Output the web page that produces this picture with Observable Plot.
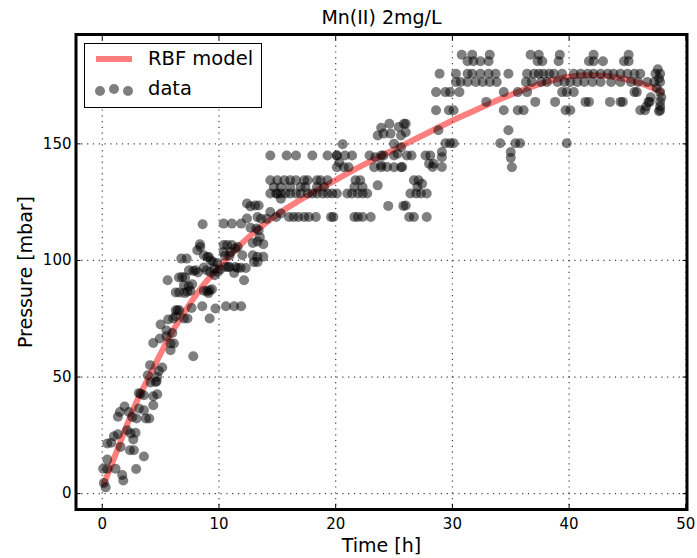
<!DOCTYPE html>
<html>
<head>
<meta charset="utf-8">
<script src="https://cdn.jsdelivr.net/npm/d3@7"></script>
<script src="https://cdn.jsdelivr.net/npm/@observablehq/plot@0.6"></script>
<style>
  html, body { margin: 0; padding: 0; background: #fff; }
  #fig { position: relative; width: 697px; height: 558px; font-family: "DejaVu Sans", sans-serif; }
  #legend { position: absolute; left: 84px; top: 43px; width: 178px; height: 65px; box-sizing: border-box;
            border: 1.5px solid #000; background: #fff; font-family: "DejaVu Sans", sans-serif; font-size: 19.5px; }
  #legend .line { position: absolute; left: 11px; top: 12px; width: 36px; height: 6px; background: rgba(255,0,0,0.5); }
  #legend .dot { position: absolute; width: 10px; height: 10px; border-radius: 50%; background: rgba(0,0,0,0.5); }
  #legend .lab { position: absolute; line-height: 22px; white-space: nowrap; }
</style>
</head>
<body>
<div id="fig"></div>
<script>
// ---- chart texts ----
const title = "Mn(II) 2mg/L";
const xLabel = "Time [h]";
const yLabel = "Pressure [mbar]";
const seriesNames = ["RBF model", "data"];
const xTicks = [0, 10, 20, 30, 40, 50];
const yTicks = [0, 50, 100, 150];

// ---- RBF model curve ----
const modelT = [0.15, 1, 2, 3, 4, 5, 6, 7, 8, 9, 10, 12, 14, 16, 18, 20, 22, 24, 26, 28, 30, 32, 34, 36, 38, 40, 42, 44, 46, 47.9];
const modelP = [4.4, 15, 28, 40, 50, 60, 69.5, 77.5, 85, 91.5, 97, 107.5, 116, 123, 129, 134.5, 140, 145, 150, 155, 160, 164.5, 169, 173, 176.5, 178.8, 179.4, 178.6, 176.2, 172.3];

// ---- measured data: [time h, pressure mbar] ----
const dataEarly = [
  [0.29,2.7],[0.14,4.6],[0.08,10.7],[0.43,10.7],[1.14,10.7],[1.71,8.0],[1.8,5.6],[2.9,10.6],[3.57,15.9],[0.43,14.6],
  [1.57,20],[0.43,21.5],[0.77,21.8],[1.0,24.6],[1.34,25.5],[2.14,27.2],[2.43,25.8],[2.66,23.2],[2.85,26.1],[2.37,18.6],
  [2.71,18.6],[1.34,33.0],[1.51,35],[1.91,37.4],[2.28,35],[2.57,32.9],[2.94,32.2],[3.28,42.8],[3.14,43.1],[3.57,42.2],
  [3.14,36.5],[3.57,35.8],[3.74,32.2],[4.03,32.2],[4.37,37.9],[4.71,42.6],[4.37,41.8],[4.14,47.7],[4.66,48.2],
  [3.9,50.8],[4.1,55.1],[4.7,50.1],[4.85,52.6],[4.57,47.9],[5.14,54.1],
  [4.37,64.6],[4.94,66.5],[5.5,67.5],[5.85,64.4],[6.14,64.4],
  [5.0,72.5],[5.5,70],[5.65,74.7],[6.08,75.1],[6.28,76.1],[6.0,68.9],[5.85,61.5],
  [6.3,78.6],[6.45,78.6],[6.6,78.6],[7.0,75.1],[7.3,75.1],[7.8,58.9],
  [6.3,86.3],[6.6,86.3],[7.05,86.0],[7.3,86.6],[7.55,87],[7.0,89.3],[7.4,88.9],[7.7,89.8],
  [9.0,86.8],[9.2,87.2],[9.4,87.6],[9.7,79.4],[9.2,75.1],[8.57,80.4],[7.65,79.6],[5.6,91.5],
  [6.57,92.7],[6.85,92.9],[7.1,92.7],[7.43,95.8],[7.8,95.5],[8.0,95.8],[8.2,94.8],[8.7,97],[8.94,95.8],[9.25,95],
  [9.62,93.7],[10.1,96.1],[10.57,97.2],[10.9,97.2],[11.3,94.6],[11.6,96.8],[11.86,96.9],[12.3,96.8],[12.15,91.5],
  [6.77,100.8],[7.23,100.8],[8.14,104.4],[8.37,106.9],[8.7,102.2],[9.14,101.5],[9.5,99.3],[9.85,98.9],
  [10.4,106.6],[10.7,106.6],[11.1,106.6],[11.4,105.1],[12.0,102.2],[12.9,107.5],[13.3,108.1],[12.9,102.2],[13.3,99.3],
  [10.6,80.4],[11.3,80.4],[11.9,80.4],[10.5,102],[10.9,102],
  [9.6,96.5],[9.9,95.1],[8.7,87],[9.1,86],[8.4,105.8],[9.0,101.5],[9.3,100],[10.4,103.6],[11.0,103.6],[11.6,105.8],
  [10.8,97.2],[11.4,97.2],[10.4,115.8],[11.1,115.8],[11.9,115.8],[8.6,115.5],
  [12.4,124.4],[12.7,123.2],[13.1,123.6],[13.4,123.6],
  [12.4,118],[12.7,114],[13.2,113.7],[13.4,113],[13.5,110],[13.8,107],[13.3,118.6],[13.6,117.9],
  [13.3,101.6],[13.8,101.6],[13.0,99.3]
];
const dataMiddle = [
  [14.1,117.9],[14.4,120.8],[14.9,118.6],[15.3,120.1],[15.0,128.6],[15.3,126.5],
  [14.4,145],[15.8,145],[16.6,145],[18.0,145],[19.3,145],[20.1,145],[20.8,145],[21.4,145],[22.9,145],[23.9,145],
  [25.0,145],[26.1,145],[26.5,145],[27.7,145],[28.1,145],[29.1,146.5],[29.1,144.3],
  [14.4,134.4],[15.0,134.4],[15.6,134.4],[16.1,134.4],[16.6,134.4],[17.3,134.4],[17.6,134.4],[18.4,134.4],[18.7,134.4],
  [19.3,134.4],[21.7,134.4],[22.1,134.4],[26.7,134.4],[27.1,134.4],
  [14.7,131.5],[15.3,131.5],[16.1,131.5],[17.0,131.5],[17.4,131.5],[18.4,131.5],[19.0,131.5],[21.6,131.5],[22.3,131.5],
  [27.0,131.5],[27.4,132.9],
  [14.4,128.7],[14.9,128.7],[15.3,128.7],[15.7,128.7],[16.1,128.7],[16.6,128.7],[17.0,128.7],[17.6,128.7],[18.0,128.7],
  [18.4,128.7],[18.9,128.7],[19.3,128.7],[19.7,128.7],[20.1,128.7],[21.0,128.7],[21.4,128.7],[21.9,128.7],[22.3,128.7],
  [22.7,128.7],[26.4,128.7],[26.9,128.7],[27.3,128.7],[27.8,128.7],
  [16.0,118.6],[16.4,118.6],[16.8,118.6],[17.3,118.6],[17.7,118.6],[18.3,118.6],[19.6,118.6],[19.8,118.6],[21.6,118.6],
  [21.9,118.6],[22.3,118.6],[23.0,118.6],[26.3,118.6],[26.7,118.6],[27.8,118.6],
  [24.5,123.4],[25.8,123.4],[23.6,132.2],[26.0,123.6],
  [20.1,140],[20.7,140],[21.1,140],[23.3,140],[23.9,140],[25.0,140],[25.6,140],
  [23.9,156.9],[24.6,158.6],[25.4,157.2],[26.0,158.6],[23.6,153.6],[24.1,154.4],[24.7,154.4],[25.6,153.6],
  [20.6,149.8],[20.1,145],[20.3,142],
  [25.0,150],[25.6,148.6],[25.3,145.8],[24.1,145],[23.4,144.3],[23.9,140.8],[24.4,140.1],
  [28.0,141.5],[25.85,158.6],[26.0,155],[28.4,141.5],[28.3,140.1],[29.1,140.1],[25.7,140.1]
];
const dataLate = [
  [30.8,188.2],[31.7,188.2],[33.2,188.2],[36.7,188.2],[37.4,188.2],[39.2,188.2],[42.1,188.2],[45.1,188.2],
  [31.3,185.4],[31.8,185.4],[32.4,185.4],[33.1,185.4],[37.3,185.4],[37.7,185.4],[39.1,185.4],[41.7,185.4],[42.1,185.4],
  [42.9,185.4],[44.7,185.4],[45.1,185.4],
  [28.9,180.1],[30.3,180.1],[31.3,180.1],[31.7,180.1],[32.4,180.1],[33.1,180.1],[33.7,180.1],[34.8,180.1],[36.4,180.1],
  [37.0,180.1],[37.4,180.1],[37.8,180.1],[38.3,180.1],[38.7,180.1],[39.4,180.1],[40.4,180.1],[41.0,180.1],[41.6,180.1],
  [42.1,180.1],[42.7,180.1],[43.3,180.1],[43.8,180.1],[44.4,180.1],[45.0,180.1],[45.6,180.1],[46.1,180.1],[47.4,180.1],[47.8,180.1],
  [30.3,176.5],[30.7,176.5],[31.3,176.5],[32.0,176.5],[32.6,176.5],[33.2,176.5],[33.8,176.5],[36.3,176.5],[36.8,176.5],
  [37.6,176.5],[38.1,176.5],[39.0,176.5],[39.6,176.5],[40.1,176.5],[40.7,176.5],[41.3,176.5],[42.0,176.5],[42.7,176.5],
  [43.6,176.5],[44.4,176.5],[45.3,176.5],[45.9,176.5],[46.7,176.5],[47.3,176.5],[47.8,176.5],
  [28.6,172.2],[29.4,172.2],[29.8,172.2],[30.6,172.2],[34.4,172.2],[35.6,172.2],[36.4,172.2],[39.4,172.2],[39.8,172.2],
  [40.4,172.2],[45.6,172.2],[45.8,172.2],[47.8,172.2],
  [32.9,168],[37.1,168],[38.8,168],[41.4,168],[41.7,168],[43.5,168],[44.4,168],[44.6,168],[46.8,168],[47.8,168],
  [28.6,164.4],[29.7,164.4],[30.1,164.4],[34.4,164.4],[35.6,164.4],[36.1,164.4],[39.7,164.4],[40.1,164.4],[46.1,164.4],
  [46.5,164.4],[47.8,164.4],
  [47.6,182],[47.7,178],[47.5,174],[47.9,170],[47.8,166],[47.7,164],[47.0,170],[46.9,168],[46.6,166],
  [34.8,155.8],[28.8,155.8],
  [29.4,150.3],[29.8,150.3],[30.1,150.3],[34.1,150.3],[35.4,150.3],[35.8,150.3],[39.8,150.3],
  [35.0,146.5],[35.0,144],[35.1,140]
];

const model = modelT.map((t, i) => ({time: t, pressure: modelP[i]}));
const data = [...dataEarly, ...dataMiddle, ...dataLate].map(([t, p]) => ({time: t, pressure: p}));

const font = "DejaVu Sans";
const gridStyle = {stroke: "#000", strokeOpacity: 0.75, strokeWidth: 1.2, strokeDasharray: "1.2,4.6"};

const chart = Plot.plot({
  width: 697,
  height: 558,
  marginLeft: 75.5,
  marginRight: 10.5,
  marginTop: 34,
  marginBottom: 49,
  style: {fontFamily: font, background: "#fff", overflow: "visible"},
  x: {domain: [-2.25, 50.1], ticks: xTicks},
  y: {domain: [-6.8, 196.9], ticks: yTicks},
  marks: [
    Plot.gridX(xTicks, gridStyle),
    Plot.gridY(yTicks, gridStyle),
    Plot.line(model, {x: "time", y: "pressure", stroke: "red", strokeOpacity: 0.5, strokeWidth: 6, curve: "catmull-rom"}),
    Plot.dot(data, {x: "time", y: "pressure", r: 5, fill: "#000", fillOpacity: 0.5, stroke: null}),
    // inward ticks on all four sides
    Plot.axisX(xTicks, {anchor: "bottom", tickSize: -5, tickFormat: () => "", label: null}),
    Plot.axisX(xTicks, {anchor: "top", tickSize: -5, tickFormat: () => "", label: null}),
    Plot.axisY(yTicks, {anchor: "left", tickSize: -5, tickFormat: () => "", label: null}),
    Plot.axisY(yTicks, {anchor: "right", tickSize: -5, tickFormat: () => "", label: null}),
    // tick labels
    Plot.axisX(xTicks, {anchor: "bottom", tickSize: 0, tickPadding: 8.5, fontSize: 15, label: null, fill: "#000"}),
    Plot.axisY(yTicks, {anchor: "left", tickSize: 0, tickPadding: 4.5, fontSize: 15, label: null, fill: "#000"}),
    Plot.frame({stroke: "#000", strokeWidth: 3}),
    // titles
    Plot.text([title], {frameAnchor: "top", lineAnchor: "middle", textAnchor: "middle", dy: -17, fontSize: 19, fill: "#000"}),
    Plot.text([xLabel], {frameAnchor: "bottom", lineAnchor: "middle", textAnchor: "middle", dy: 36, fontSize: 19, fill: "#000"}),
    Plot.text([yLabel], {frameAnchor: "left", lineAnchor: "middle", textAnchor: "middle", dx: -50.5, rotate: -90, fontSize: 19, fill: "#000"})
  ]
});

const fig = document.getElementById("fig");
fig.appendChild(chart);

// legend (matplotlib-style box inside axes, upper left)
const legend = document.createElement("div");
legend.id = "legend";
legend.innerHTML =
  `<div class="line"></div>` +
  `<div class="lab" style="left:63px;top:4px">${seriesNames[0]}</div>` +
  `<div class="dot" style="left:9.5px;top:41.5px"></div>` +
  `<div class="dot" style="left:23.5px;top:39.5px"></div>` +
  `<div class="dot" style="left:37.5px;top:42px"></div>` +
  `<div class="lab" style="left:63px;top:34px">${seriesNames[1]}</div>`;
fig.appendChild(legend);
</script>
</body>
</html>
